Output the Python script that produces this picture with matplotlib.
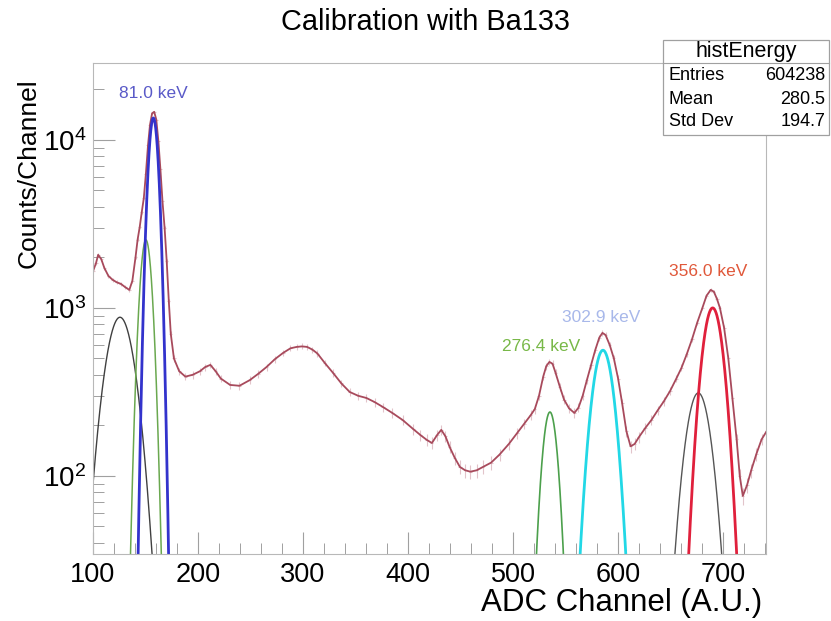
import numpy as np
import matplotlib.pyplot as plt
from matplotlib.patches import Rectangle
from matplotlib.ticker import LogLocator, MultipleLocator, NullFormatter

plt.rcParams['font.family'] = ['Liberation Sans', 'DejaVu Sans']
plt.rcParams['mathtext.fontset'] = 'custom'
plt.rcParams['mathtext.rm'] = 'Liberation Sans'
plt.rcParams['mathtext.it'] = 'Liberation Sans'

# total fit / histogram
channel = [100, 102.9, 104.9, 107.9, 110.8, 114.7, 118.7, 122.7, 126.6, 130.6, 134.6, 137.5,
           140.5, 142.5, 144.5, 146.4, 148.4, 150.4, 152.4, 154.3, 156.3, 158.3, 160.3, 162.3,
           164.2, 166.2, 168.2, 170.2, 172.2, 174.1, 177.1, 182.1, 188, 195, 201.9, 206.9, 211.8,
           216.8, 221.7, 230.6, 239.5, 249.4, 257.3, 265.3, 273.2, 281.1, 288.1, 294, 299, 303.9,
           308.9, 313.8, 320.8, 328.7, 336.6, 344.5, 352.5, 360.4, 368.3, 376.2, 385.1, 395, 405,
           411.9, 417.8, 422.8, 427.7, 431.7, 435.7, 439.6, 444.6, 449.5, 454.5, 459.4, 465.4,
           471.3, 479.2, 487.2, 496.1, 504, 510.9, 516.9, 520.8, 524.8, 528.8, 531.7, 534.7,
           537.7, 540.6, 544.6, 548.6, 553.5, 558.5, 562.4, 566.4, 570.3, 574.3, 578.3, 582.2,
           585.2, 588.2, 592.2, 596.1, 600.1, 604, 608, 612, 615.9, 619.9, 625.8, 631.8, 637.7,
           643.7, 649.6, 655.6, 660.5, 665.5, 670.5, 675.4, 680.4, 684.3, 688.3, 691.3, 694.3,
           697.1, 701.1, 705.1, 709, 713, 716, 718.9, 722.9, 726.9, 731.8, 736.8, 741.7]
counts = [1650, 1850, 2070, 1950, 1730, 1550, 1470, 1420, 1390, 1330, 1280, 1450, 2000, 2550,
          3030, 3700, 4500, 6300, 9300, 12300, 14400, 14700, 13200, 9800, 6700, 4300, 3000, 1900,
          1100, 700, 500, 420, 390, 400, 420, 445, 458, 420, 380, 348, 344, 372, 405, 445, 495,
          540, 575, 586, 590, 586, 565, 535, 470, 410, 355, 316, 300, 291, 275, 257, 237, 215,
          190, 175, 164, 157, 175, 188, 172, 149, 128, 113, 108, 106, 108, 113, 120, 134, 155,
          180, 205, 230, 250, 300, 390, 450, 477, 465, 410, 340, 285, 252, 237, 255, 300, 370,
          455, 560, 665, 710, 690, 600, 500, 380, 270, 185, 150, 155, 170, 192, 215, 245, 278,
          320, 380, 440, 530, 650, 815, 1000, 1180, 1280, 1250, 1130, 1000, 760, 500, 290, 165,
          100, 76, 88, 108, 135, 165, 185]

# gaussian components of the fit: amplitude, mean, sigma, colour, width
peak_amp = [880, 2540, 13500, 240, 560, 312, 1000]
peak_mean = [125.7, 150.4, 157.5, 535.2, 585.7, 676.5, 690.2]
peak_sigma = [12.0, 5.0, 4.2, 6.5, 9.2, 10.6, 8.8]
peak_color = ['#404040', '#6aa84f', '#3333cc', '#4ca04c', '#22d8e6', '#555555', '#e0203c']
peak_lw = [1.0, 1.1, 2.0, 1.2, 2.0, 1.0, 2.0]

label_text = ['81.0 keV', '276.4 keV', '302.9 keV', '356.0 keV']
label_x = [157.6, 526.7, 583.8, 685.7]
label_y = [19000, 590, 875, 1640]
label_color = ['#5a5ac8', '#78b848', '#a8b8ea', '#e0583a']

fig = plt.figure(figsize=(8.31, 6.21), dpi=100)
ax = fig.add_axes([0.1119, 0.1079, 0.8099, 0.7907])

ch = np.array(channel)
n = np.array(counts)
ax.errorbar(ch, n, yerr=np.sqrt(n), xerr=1.5, fmt='none', ecolor='#e2c4ca', elinewidth=0.8)
ax.plot(ch, n, color='#a84a5c', lw=1.3)

for a, m, s, c, w in zip(peak_amp, peak_mean, peak_sigma, peak_color, peak_lw):
    xs = np.linspace(max(100, m - 4.5 * s), min(741, m + 4.5 * s), 300)
    ax.plot(xs, a * np.exp(-0.5 * ((xs - m) / s) ** 2), color=c, lw=w)

for t, x, y, c in zip(label_text, label_x, label_y, label_color):
    ax.text(x, y, t, color=c, fontsize=12.5, ha='center', va='center')

ax.set_yscale('log')
ax.set_xlim(100, 741)
ax.set_ylim(34.3, 28700)

ax.xaxis.set_major_locator(MultipleLocator(100))
ax.xaxis.set_minor_locator(MultipleLocator(20))
ax.yaxis.set_major_locator(LogLocator(base=10))
ax.yaxis.set_minor_locator(LogLocator(base=10, subs=np.arange(2, 10)))
ax.yaxis.set_minor_formatter(NullFormatter())
ax.tick_params(which='both', direction='in', color='#a0a0a0', top=False, right=False)
ax.tick_params(which='major', length=16, width=0.8)
ax.tick_params(which='minor', length=8, width=0.7)
ax.tick_params(axis='x', pad=6, labelsize=19.5)
ax.tick_params(axis='y', pad=5, labelsize=20)
for sp in ax.spines.values():
    sp.set_color('#b8b8b8')
    sp.set_linewidth(0.8)

ax.set_xlabel('ADC Channel (A.U.)', fontsize=22.5, loc='right')
ax.xaxis.set_label_coords(0.994, -0.070)
ax.set_ylabel('Counts/Channel', fontsize=19, loc='top')
ax.yaxis.set_label_coords(-0.078, 0.969)

fig.text(425 / 831, 1 - 22 / 621, 'Calibration with Ba133', fontsize=20.8, ha='center', va='center')

# stats box
bx0, by0, bx1, by1 = 663 / 831, 1 - 135 / 621, 829 / 831, 1 - 40 / 621
fig.patches.append(Rectangle((bx0, by0), bx1 - bx0, by1 - by0, transform=fig.transFigure,
                             facecolor='white', edgecolor='#a0a0a0', lw=0.9, zorder=5))
fig.add_artist(plt.Line2D([bx0, bx1], [1 - 63 / 621] * 2, transform=fig.transFigure,
                          color='#a0a0a0', lw=0.8, zorder=6))
fig.text((bx0 + bx1) / 2, 1 - 51 / 621, 'histEnergy', fontsize=15.5, ha='center', va='center', zorder=7)
stat_names = ['Entries', 'Mean', 'Std Dev']
stat_values = ['604238', '280.5', '194.7']
for i, (nm, v) in enumerate(zip(stat_names, stat_values)):
    yy = 1 - (76 + 23 * i) / 621
    fig.text(669 / 831, yy, nm, fontsize=13, ha='left', va='center', zorder=7)
    fig.text(825 / 831, yy, v, fontsize=13, ha='right', va='center', zorder=7)

fig.savefig('out.png', dpi=100)
